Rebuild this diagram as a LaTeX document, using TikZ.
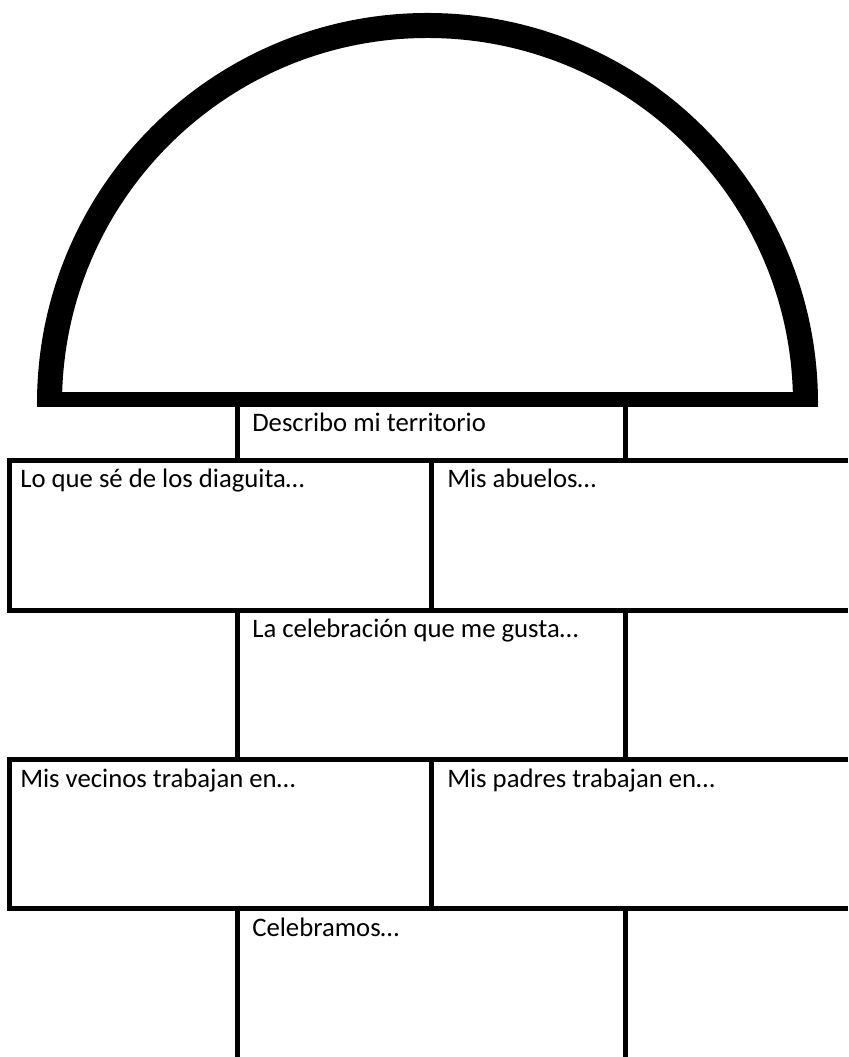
\documentclass[tikz,border=0pt]{standalone}
\usepackage{fontspec}
\setmainfont{Carlito}
\usetikzlibrary{positioning}

\begin{document}
\begin{tikzpicture}[x=0.025cm, y=0.025cm, line join=miter,
    wall/.style={line width=0.125cm},
    cell text/.style={anchor=base west, inner sep=0pt, font=\fontsize{19}{23}\selectfont}]
    \useasboundingbox (0,0) rectangle (848,1057);

    % Draw the dome
    \draw[line width=0.625cm] (49.5,653.5) arc[start angle=180, end angle=0, radius=378];
    \draw[line width=0.375cm] (37,657.5) -- (818,657.5);

    % Draw the middle column of boxes
    \foreach \top/\bot in {650/596.5, 446.5/297, 148/0}{
        \draw[wall] (237.5,\top) -- (237.5,\bot);
        \draw[wall] (625.5,\top) -- (625.5,\bot);
    }

    % Draw the wide rows, split in two
    \foreach \top/\bot in {596.5/446.5, 297/148}{
        \draw[wall] (848,\top) -- (9.5,\top) -- (9.5,\bot) -- (848,\bot);
        \draw[wall] (431,\top) -- (431,\bot);
    }

    % Texts of the boxes
    \node[cell text] (territorio) at (252,625) {Describo mi territorio};
    \node[cell text] (diaguita) at (20,569) {Lo que sé de los diaguita…};
    \node[cell text] (abuelos) at (447,569) {Mis abuelos…};
    \node[cell text] (celebracion) at (252,419) {La celebración que me gusta…};
    \node[cell text] (vecinos) at (20,269) {Mis vecinos trabajan en…};
    \node[cell text] (padres) at (447,269) {Mis padres trabajan en…};
    \node[cell text] (celebramos) at (252,120) {Celebramos…};
\end{tikzpicture}
\end{document}
